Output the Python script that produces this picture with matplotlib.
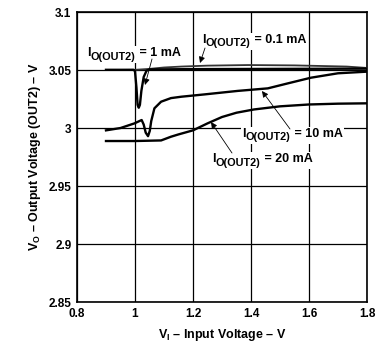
import matplotlib
matplotlib.use("Agg")
import matplotlib.pyplot as plt
from matplotlib.transforms import IdentityTransform
from matplotlib.patches import Rectangle, FancyArrowPatch

plt.rcParams['font.family'] = ['Liberation Sans', 'DejaVu Sans']
plt.rcParams['font.weight'] = 'bold'
plt.rcParams['mathtext.fontset'] = 'custom'
plt.rcParams['mathtext.rm'] = 'Liberation Sans:bold'
plt.rcParams['mathtext.it'] = 'Liberation Sans:bold'
plt.rcParams['mathtext.bf'] = 'Liberation Sans:bold'

# Data
x_01 = [0.9, 1.0, 1.05, 1.1, 1.16, 1.25, 1.39, 1.55, 1.73, 1.8]
y_01 = [3.0500, 3.0502, 3.0510, 3.0522, 3.0530, 3.0538, 3.0543, 3.0540, 3.0530, 3.0518]

x_1 = [0.9, 0.995, 1.0, 1.005, 1.009, 1.013, 1.017, 1.022, 1.03, 1.04, 1.05, 1.2, 1.5, 1.8]
y_1 = [3.0502, 3.0502, 3.0490, 3.0350, 3.0200, 3.0175, 3.0200, 3.0320, 3.0440, 3.0495, 3.0505, 3.0508, 3.0510, 3.0512]

x_10 = [0.9, 0.95, 0.998, 1.023, 1.03, 1.037, 1.045, 1.051, 1.056, 1.067, 1.09, 1.124, 1.16, 1.24,
        1.354, 1.458, 1.527, 1.607, 1.70, 1.8]
y_10 = [2.9980, 3.0000, 3.0040, 3.0069, 3.0030, 2.9960, 2.9930, 2.9975, 3.0060, 3.0170, 3.0227, 3.0258, 3.0270, 3.0290,
        3.0320, 3.0342, 3.0385, 3.0434, 3.0472, 3.0486]

x_20 = [0.9, 1.0, 1.09, 1.124, 1.15, 1.2, 1.25, 1.3, 1.35, 1.41, 1.5, 1.6, 1.7, 1.8]
y_20 = [2.9888, 2.9888, 2.9893, 2.9925, 2.9945, 2.9980, 3.0040, 3.0095, 3.0132, 3.0160, 3.0187, 3.0203, 3.0210, 3.0213]

labels = ['0.1 mA', '1 mA', '10 mA', '20 mA']

xticks = [0.8, 1.0, 1.2, 1.4, 1.6, 1.8]
xticklabels = ['0.8', '1', '1.2', '1.4', '1.6', '1.8']
yticks = [2.85, 2.9, 2.95, 3.0, 3.05, 3.1]
yticklabels = ['2.85', '2.9', '2.95', '3', '3.05', '3.1']

W, H = 390, 345
fig = plt.figure(figsize=(3.9, 3.45), dpi=100)
ax = fig.add_axes([0.1974, 0.1246, 0.7436, 0.8405])
ax.set_xlim(0.8, 1.8)
ax.set_ylim(2.85, 3.1)
ax.set_xticks(xticks)
ax.set_xticklabels(xticklabels)
ax.set_yticks(yticks)
ax.set_yticklabels(yticklabels)
ax.tick_params(length=0, labelsize=8.5, pad=4)
for lab in ax.get_xticklabels() + ax.get_yticklabels():
    lab.set_fontweight('bold')
ax.grid(True, color='black', lw=0.9)
ax.set_axisbelow(True)
for s in ax.spines.values():
    s.set_linewidth(1.2)

ax.plot(x_01, y_01, color='#333333', lw=1.3, zorder=3)
ax.plot(x_1, y_1, color='black', lw=1.7, zorder=3)
ax.plot(x_10, y_10, color='black', lw=1.7, zorder=3)
ax.plot(x_20, y_20, color='black', lw=1.7, zorder=3)

ax.set_xlabel(r'V$_\mathrm{I}$ – Input Voltage – V', fontsize=9, fontweight='bold', labelpad=5)
ax.set_ylabel(r'V$_\mathrm{O}$ – Output Voltage (OUT2) – V', fontsize=9, fontweight='bold', labelpad=4)

fig.canvas.draw()
renderer = fig.canvas.get_renderer()
ident = IdentityTransform()
fs = 9
fs_sub = 7.8


def add_label(x0, ytop, rest):
    """x0, ytop in image pixel coords (origin top-left). ytop = baseline of main text."""
    yb = H - ytop
    parts = [('I', fs, 0), ('O(OUT2)', fs_sub, -3.5), (' = ' + rest, fs, 0)]
    xc = x0
    texts = []
    for s, size, dy in parts:
        t = fig.text(xc, yb + dy, s, transform=ident, fontsize=size, fontweight='bold',
                     ha='left', va='baseline', zorder=6)
        bb = t.get_window_extent(renderer)
        xc = bb.x1 + 0.3
        texts.append(t)
    bbs = [t.get_window_extent(renderer) for t in texts]
    x_min = min(b.x0 for b in bbs) - 1
    x_max = max(b.x1 for b in bbs) + 1
    y_min = min(b.y0 for b in bbs) - 1
    y_max = max(b.y1 for b in bbs) + 1
    fig.patches.append(Rectangle((x_min, y_min), x_max - x_min, y_max - y_min, transform=ident,
                                 facecolor='white', edgecolor='none', zorder=5))


def add_arrow(xs, ys, xe, ye):
    a = FancyArrowPatch((xs, H - ys), (xe, H - ye), transform=ident, arrowstyle='-|>',
                        mutation_scale=9, color='black', lw=0.6, shrinkA=0, shrinkB=0, zorder=7)
    fig.patches.append(a)


add_label(202, 43, labels[0])
add_arrow(205, 48, 200, 63)
add_label(87, 56, labels[1])
add_arrow(152, 59, 145, 85)
add_label(242, 137, labels[2])
add_arrow(290, 129, 262, 91)
add_label(212, 162, labels[3])
add_arrow(232, 153, 211, 122)

fig.savefig('out.png', dpi=100)
